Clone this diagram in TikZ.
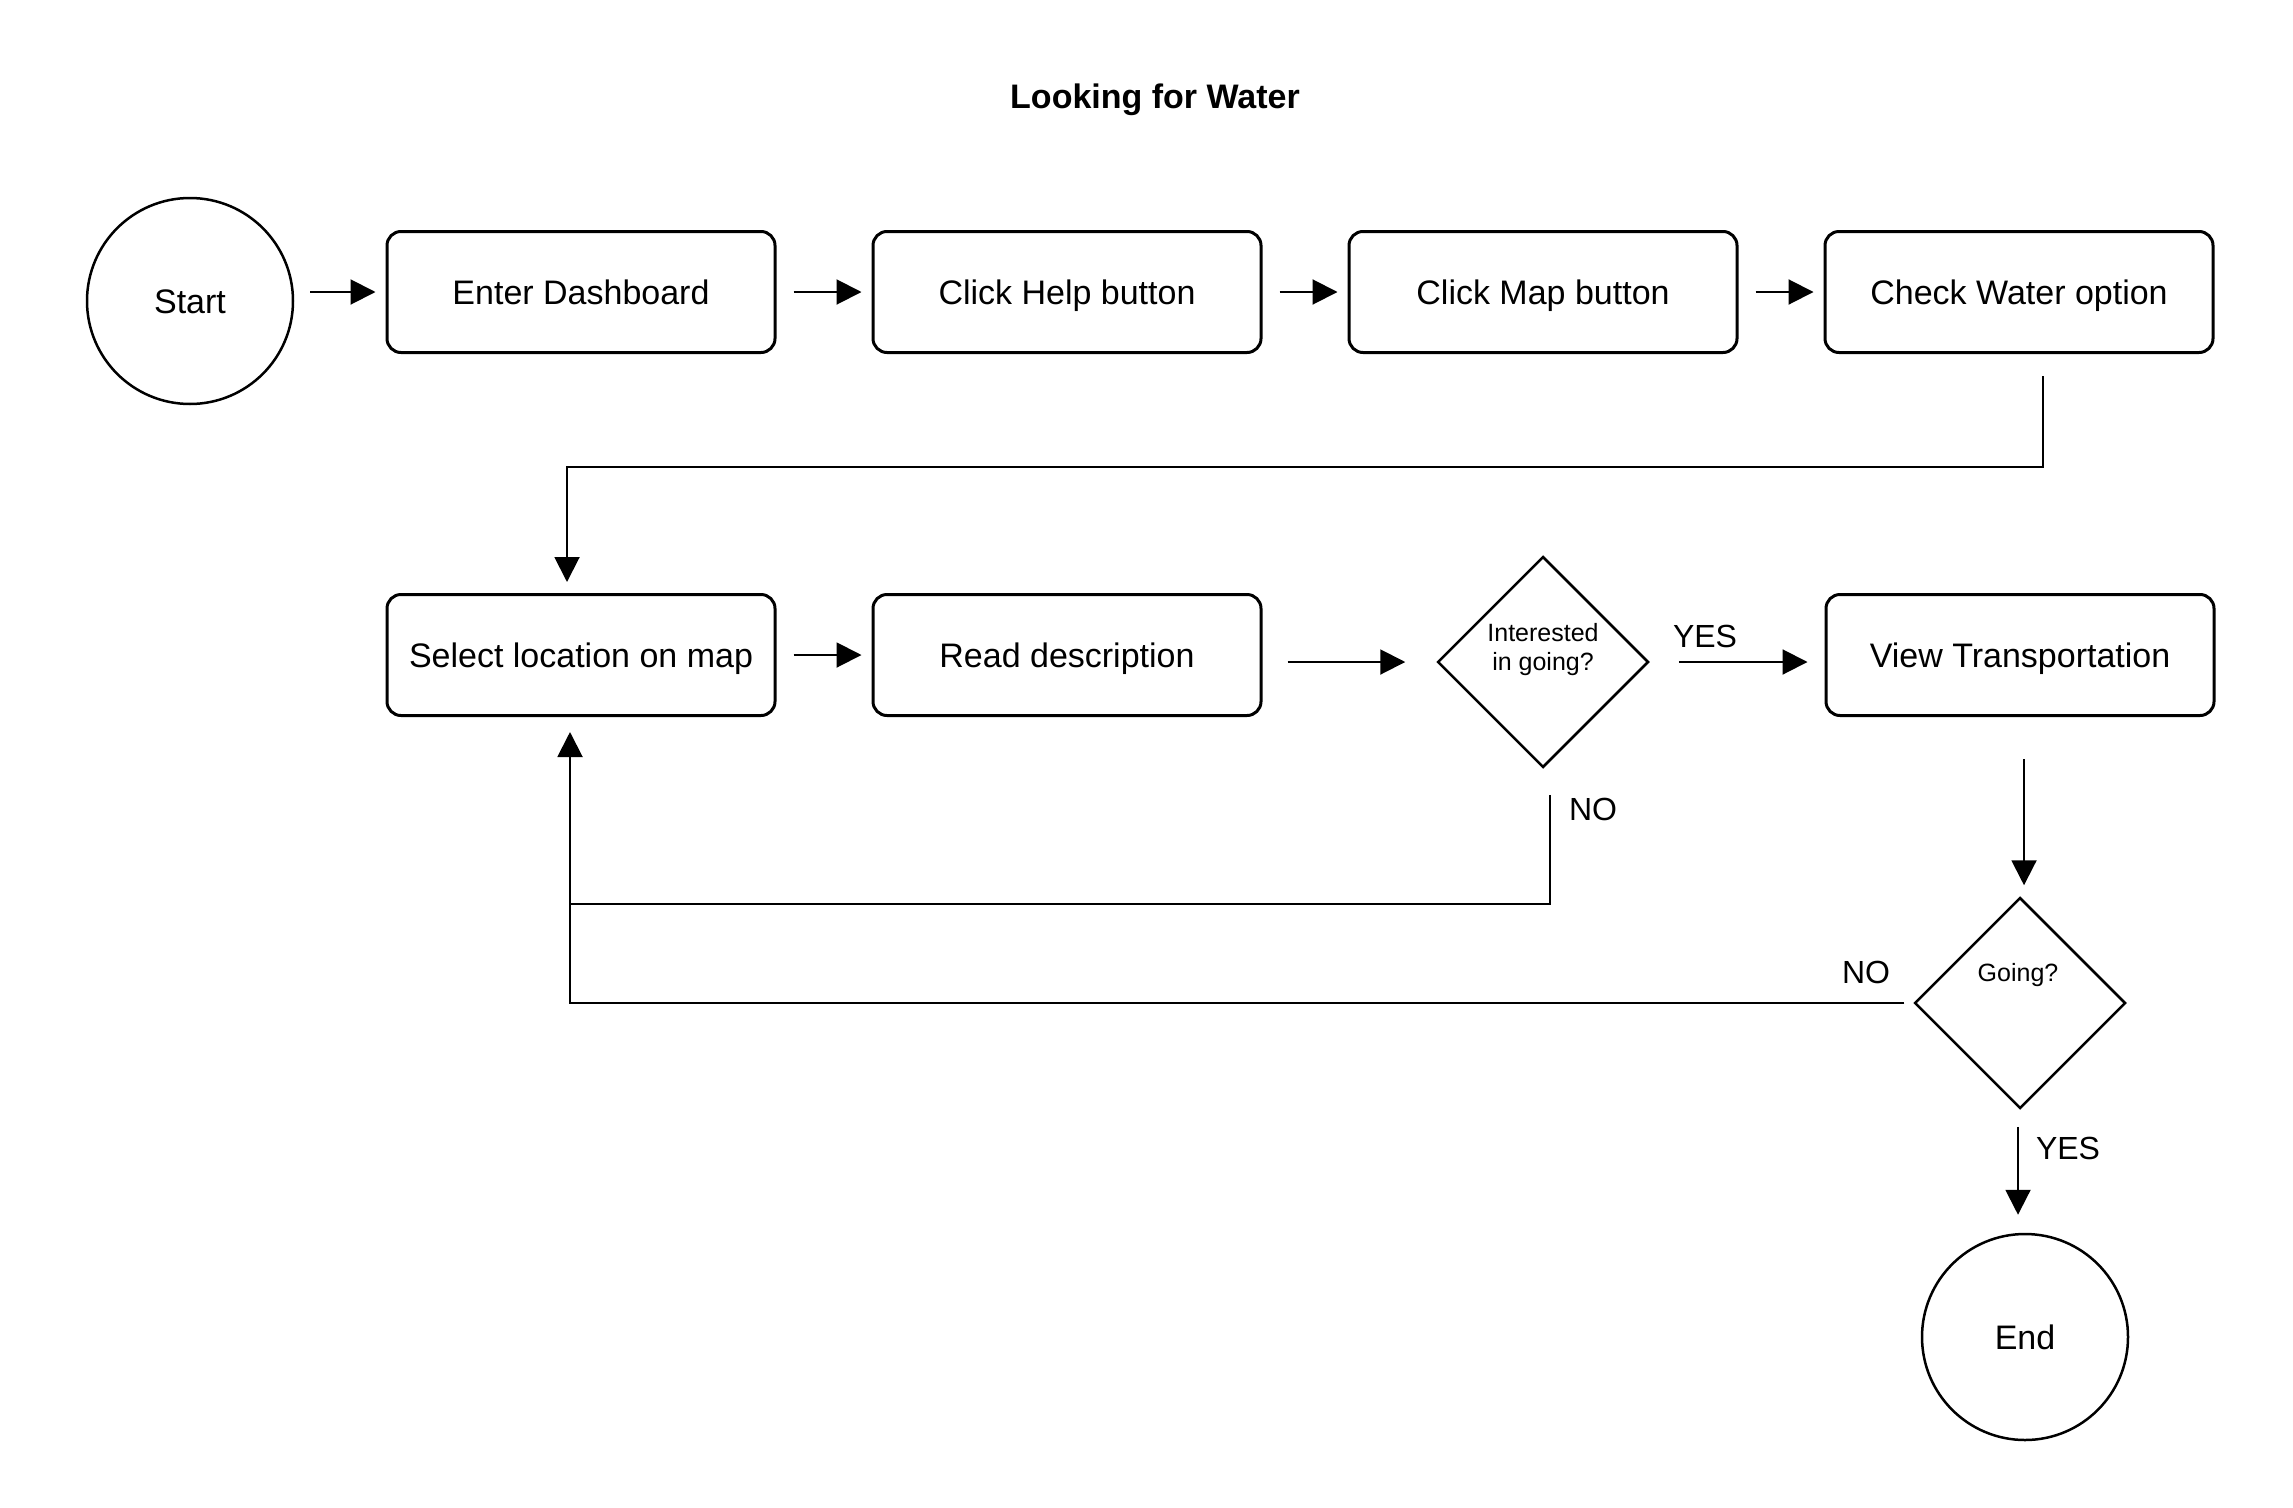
\documentclass[tikz,border=0pt]{standalone}
\usepackage{fontspec}
\setmainfont{Liberation Sans}
\usetikzlibrary{shapes.geometric,arrows.meta,calc}
\begin{document}
\begin{tikzpicture}[x=1pt,y=-1pt,
  box/.style={draw,line width=3pt,rounded corners=14pt,minimum width=388pt,minimum height=121pt,inner sep=0pt,text height=24.5pt,text depth=0pt,font=\fontsize{34}{40}\selectfont},
  term/.style={draw,circle,line width=2.5pt,minimum size=206pt,inner sep=0pt,text height=24.5pt,text depth=0pt,font=\fontsize{34}{40}\selectfont},
  dec/.style={draw,diamond,aspect=1,line width=2.5pt,minimum width=211pt,minimum height=211pt,inner sep=0pt},
  dtext/.style={font=\fontsize{25}{29}\selectfont,align=center,inner sep=0pt},
  lbl/.style={font=\fontsize{32}{38}\selectfont,inner sep=0pt},
  arr/.style={line width=2pt,-{Triangle[length=25pt,width=25pt]}},
  ln/.style={line width=2pt}
]
\useasboundingbox (0,0) rectangle (2293,1507);
\node[font=\bfseries\fontsize{34}{40}\selectfont] (title) at (1155,100) {Looking for Water};

\node[term] (start) at (190,301) {Start};
\node[box] (b1) at (581,292) {Enter Dashboard};
\node[box] (b2) at (1067,292) {Click Help button};
\node[box] (b3) at (1543,292) {Click Map button};
\node[box] (b4) at (2019,292) {Check Water option};
\node[box] (b5) at (581,655) {Select location on map};
\node[box] (b6) at (1067,655) {Read description};
\node[dec] (d1) at (1543,662) {};
\node[dtext] (d1t) at (1543,650) {Interested\\in going?};
\node[box] (b7) at (2020,655) {View Transportation};
\node[dec] (d2) at (2020,1003) {};
\node[dtext] (d2t) at (2018,975) {Going?};
\node[term] (end) at (2025,1337) {End};

\draw[arr] ($(start.east |- b1.west)+(16,0)$) -- ([xshift=-10pt]b1.west);
\draw[arr] ([xshift=17pt]b1.east) -- ([xshift=-10pt]b2.west);
\draw[arr] ([xshift=17pt]b2.east) -- ([xshift=-10pt]b3.west);
\draw[arr] ([xshift=17pt]b3.east) -- ([xshift=-10pt]b4.west);

\draw[arr] ($(b4.south)+(24,22)$) -- ++(0,91) -| ($(b5.north)+(-14,-11)$);

\draw[arr] ([xshift=17pt]b5.east) -- ([xshift=-10pt]b6.west);
\draw[arr] ($(b6.east |- d1.west)+(25,0)$) -- ($(d1.west)+(-31,0)$);
\draw[arr] ($(d1.east)+(29,0)$) -- ($(b7.west |- d1.east)+(-17,0)$);
\node[lbl] (yes1) at (1705,636) {YES};

\coordinate (j1) at (570,904);
\draw[ln] ($(d1.south)+(7,26)$) |- (j1);
\node[lbl] (no1) at (1593,809) {NO};

\draw[arr] ($(d2.west)+(-9,0)$) -| ($(b5.south)+(-11,15)$);
\node[lbl] (no2) at (1866,972) {NO};

\draw[arr] ($(b7.south)+(4,42)$) -- ($(d2.north)+(4,-11)$);
\draw[arr] ($(d2.south)+(-2,17)$) -- ($(end.north)+(-7,-18)$);
\node[lbl] (yes2) at (2068,1148) {YES};
\end{tikzpicture}
\end{document}
